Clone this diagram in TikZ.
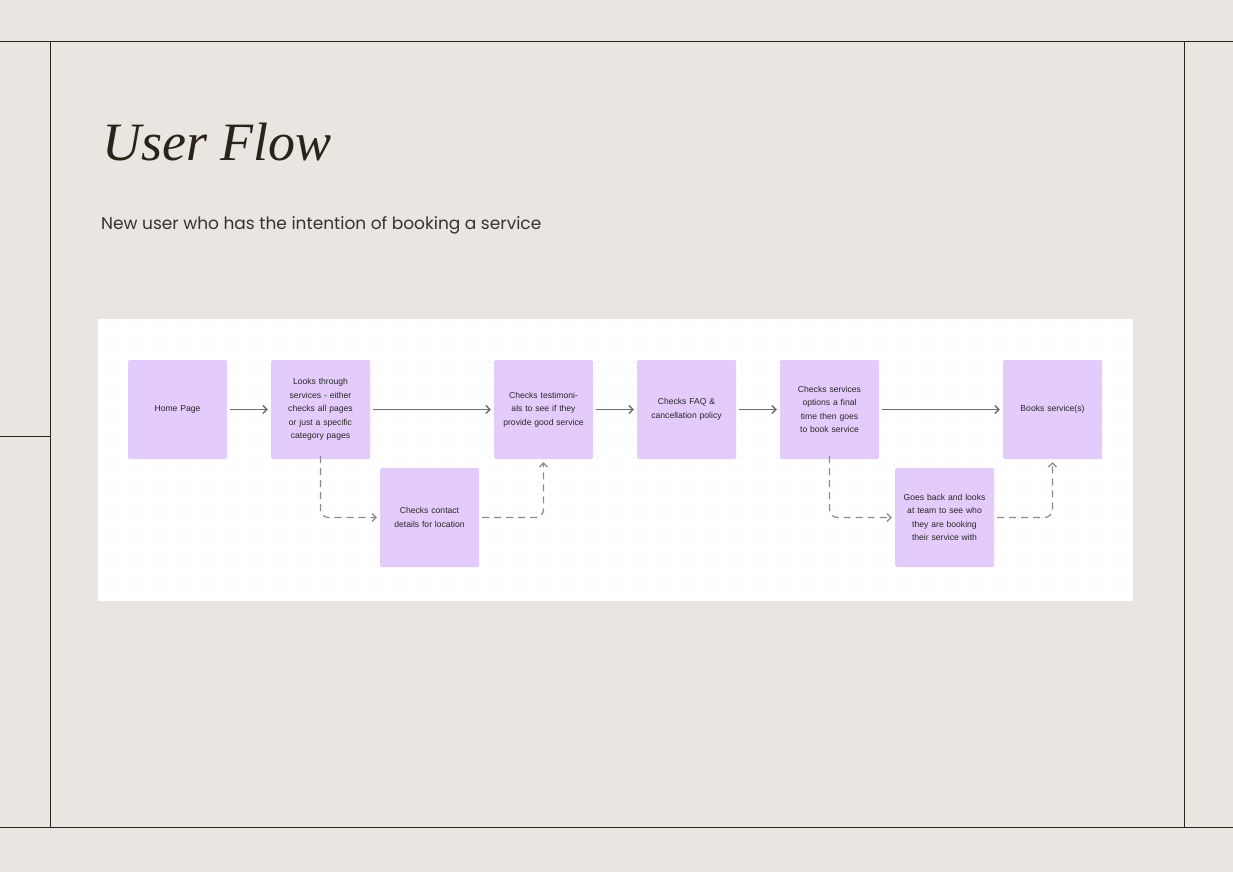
\documentclass[tikz,border=0pt]{standalone}
\usepackage{fontspec}
\setmainfont{Liberation Sans}
\newfontfamily\titlefont{Liberation Serif}
\newfontfamily\subfont{Poppins}
\usetikzlibrary{arrows.meta}
\definecolor{bg}{HTML}{E9E5E0}
\definecolor{frame}{HTML}{2A2418}
\definecolor{boxc}{HTML}{E3CCFB}
\definecolor{arr}{HTML}{6E6E6E}
\definecolor{dotc}{HTML}{D6D6D6}
\tikzset{
 fbox/.style={fill=boxc,rounded corners=1.5pt,minimum width=99pt,minimum height=99pt,inner sep=0pt,align=center,text width=86pt,font=\fontsize{8.6}{13.5}\selectfont,text=black!85},
 flow/.style={draw=arr,line width=1.3pt,-{Straight Barb[length=4pt,width=8pt]}},
 dflow/.style={draw=arr!80,line width=1.2pt,dash pattern=on 7pt off 5pt,rounded corners=8pt,-{Straight Barb[length=4pt,width=8pt]}}
}
\begin{document}
\begin{tikzpicture}[x=1pt,y=-1pt]
\useasboundingbox (0,0) rectangle (1233,872);
\fill[bg] (0,0) rectangle (1233,872);
\draw[frame,line width=1pt] (0,42) -- (1233,42) (0,827) -- (1233,827) (50,42) -- (50,827) (1184,42) -- (1184,827) (0,436) -- (50,436);
\node[anchor=west,inner sep=0pt,text=frame,font=\titlefont\itshape\fontsize{54}{60}\selectfont] (title) at (102,142) {User Flow};
\node[anchor=west,inner sep=0pt,text=black!80,font=\subfont\fontsize{17}{20}\selectfont] (sub) at (101,225) {New user who has the intention of booking a service};
\fill[white] (98,319) rectangle (1133,601);
\foreach \i in {0,...,85}{\foreach \j in {0,...,22}{\fill[dotc] (106+\i*12,326+\j*12) circle (0.6pt);}}
\node[fbox] (a) at (177.5,409.5) {Home Page};
\node[fbox] (b) at (320.5,409.5) {Looks through services - either checks all pages or just a specific category pages};
\node[fbox] (c) at (543.5,409.5) {Checks testimonials to see if they provide good service};
\node[fbox] (d) at (686.5,409.5) {Checks FAQ \& cancellation policy};
\node[fbox] (e) at (829.5,409.5) {Checks services options a final time then goes to book service};
\node[fbox] (f) at (1052.5,409.5) {Books service(s)};
\node[fbox] (g) at (429.5,517.5) {Checks contact details for location};
\node[fbox] (h) at (944.5,517.5) {Goes back and looks at team to see who they are booking their service with};
\draw[flow] ([xshift=3pt]a.east) -- ([xshift=-3pt]b.west);
\draw[flow] ([xshift=3pt]b.east) -- ([xshift=-3pt]c.west);
\draw[flow] ([xshift=3pt]c.east) -- ([xshift=-3pt]d.west);
\draw[flow] ([xshift=3pt]d.east) -- ([xshift=-3pt]e.west);
\draw[flow] ([xshift=3pt]e.east) -- ([xshift=-3pt]f.west);
\draw[dflow] ([yshift=3pt]b.south) |- ([xshift=-3pt]g.west);
\draw[dflow] ([xshift=3pt]g.east) -| ([yshift=-3pt]c.south);
\draw[dflow] ([yshift=3pt]e.south) |- ([xshift=-3pt]h.west);
\draw[dflow] ([xshift=3pt]h.east) -| ([yshift=-3pt]f.south);
\end{tikzpicture}
\end{document}
